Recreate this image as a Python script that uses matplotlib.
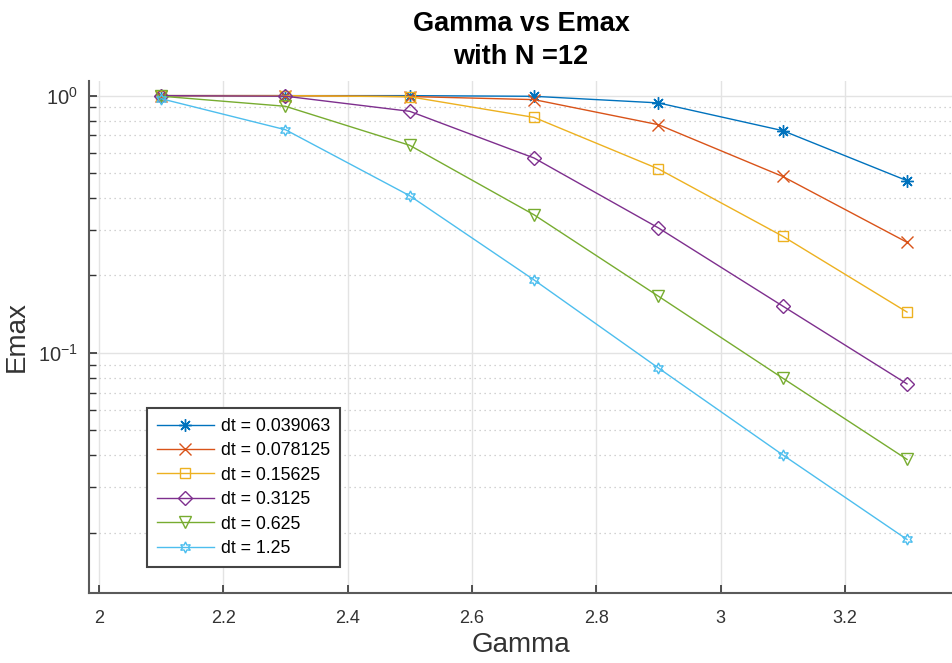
import numpy as np
import matplotlib.pyplot as plt
from matplotlib.ticker import LogLocator, NullFormatter, FixedLocator

plt.rcParams["font.family"] = ["Liberation Sans", "DejaVu Sans"]
plt.rcParams["mathtext.default"] = "regular"

gamma = [2.1, 2.3, 2.5, 2.7, 2.9, 3.1, 3.3]
dt_labels = ["dt = 0.039063", "dt = 0.078125", "dt = 0.15625",
             "dt = 0.3125", "dt = 0.625", "dt = 1.25"]

emax_0039063 = [1.0, 1.0, 1.0, 0.994, 0.937, 0.731, 0.467]
emax_0078125 = [1.0, 1.0, 0.992, 0.965, 0.771, 0.485, 0.269]
emax_015625 = [1.0, 1.0, 0.99, 0.823, 0.519, 0.284, 0.144]
emax_03125 = [1.0, 0.995, 0.869, 0.572, 0.306, 0.152, 0.0757]
emax_0625 = [0.995, 0.909, 0.641, 0.344, 0.166, 0.0797, 0.0385]
emax_125 = [0.973, 0.737, 0.408, 0.192, 0.0873, 0.0401, 0.0188]

series = [emax_0039063, emax_0078125, emax_015625, emax_03125, emax_0625, emax_125]
colors = ["#0072BD", "#D95319", "#EDB120", "#7E2F8E", "#77AC30", "#4DBEEE"]
markers = [(8, 2, 0), "x", "s", "D", "v", (6, 1, 0)]
msizes = [9, 8, 7, 7, 8, 8]

fig = plt.figure(figsize=(9.53, 6.63), dpi=100)
ax = fig.add_axes([89 / 953, 70 / 663, 864 / 953, 512 / 663])

for y, c, m, ms, lab in zip(series, colors, markers, msizes, dt_labels):
    ax.plot(gamma, y, color=c, marker=m, markersize=ms, markerfacecolor="none",
            markeredgecolor=c, markeredgewidth=1.0, linewidth=1.0, label=lab)

ax.set_yscale("log")
ax.set_xlim(1.984, 3.374)
ax.set_ylim(0.01164, 1.14)
ax.xaxis.set_major_locator(FixedLocator([2, 2.2, 2.4, 2.6, 2.8, 3, 3.2]))
ax.set_xticklabels(["2", "2.2", "2.4", "2.6", "2.8", "3", "3.2"])
ax.yaxis.set_major_locator(FixedLocator([0.1, 1.0]))
ax.set_yticklabels(["$10^{-1}$", "$10^{0}$"], fontsize=14.5)
ax.yaxis.set_minor_locator(LogLocator(base=10, subs=np.arange(2, 10)))
ax.yaxis.set_minor_formatter(NullFormatter())

ax.grid(which="major", color="#e3e3e3", linewidth=1.0)
ax.grid(which="minor", axis="y", color="#c4c4c4", linestyle=(0, (1, 3)), linewidth=0.9)
ax.set_axisbelow(True)

for side in ["top", "right"]:
    ax.spines[side].set_visible(False)
for side in ["left", "bottom"]:
    ax.spines[side].set_color("#5a5a5a")
    ax.spines[side].set_linewidth(1.5)

ax.tick_params(which="major", direction="in", length=6, width=1.2, color="#333333",
               labelcolor="#333333")
ax.tick_params(axis="x", which="major", labelsize=13, pad=12)
ax.tick_params(axis="y", which="major", pad=8)
ax.tick_params(which="minor", direction="in", length=5, width=1.0, color="#333333")

ax.set_xlabel("Gamma", fontsize=20, color="#333333", labelpad=4)
ax.set_ylabel("Emax", fontsize=20, color="#333333", labelpad=6)
ax.set_title("Gamma vs Emax\nwith N =12", fontsize=19.5, fontweight="bold",
             pad=12, linespacing=1.35)

leg = ax.legend(loc="lower left", bbox_to_anchor=(0.067, 0.051), borderaxespad=0,
                fontsize=12.8, fancybox=False, framealpha=1, edgecolor="#444444",
                handlelength=3.2, handletextpad=0.4, labelspacing=0.42,
                borderpad=0.55)
leg.get_frame().set_linewidth(1.5)

plt.savefig("out.png", dpi=100)
